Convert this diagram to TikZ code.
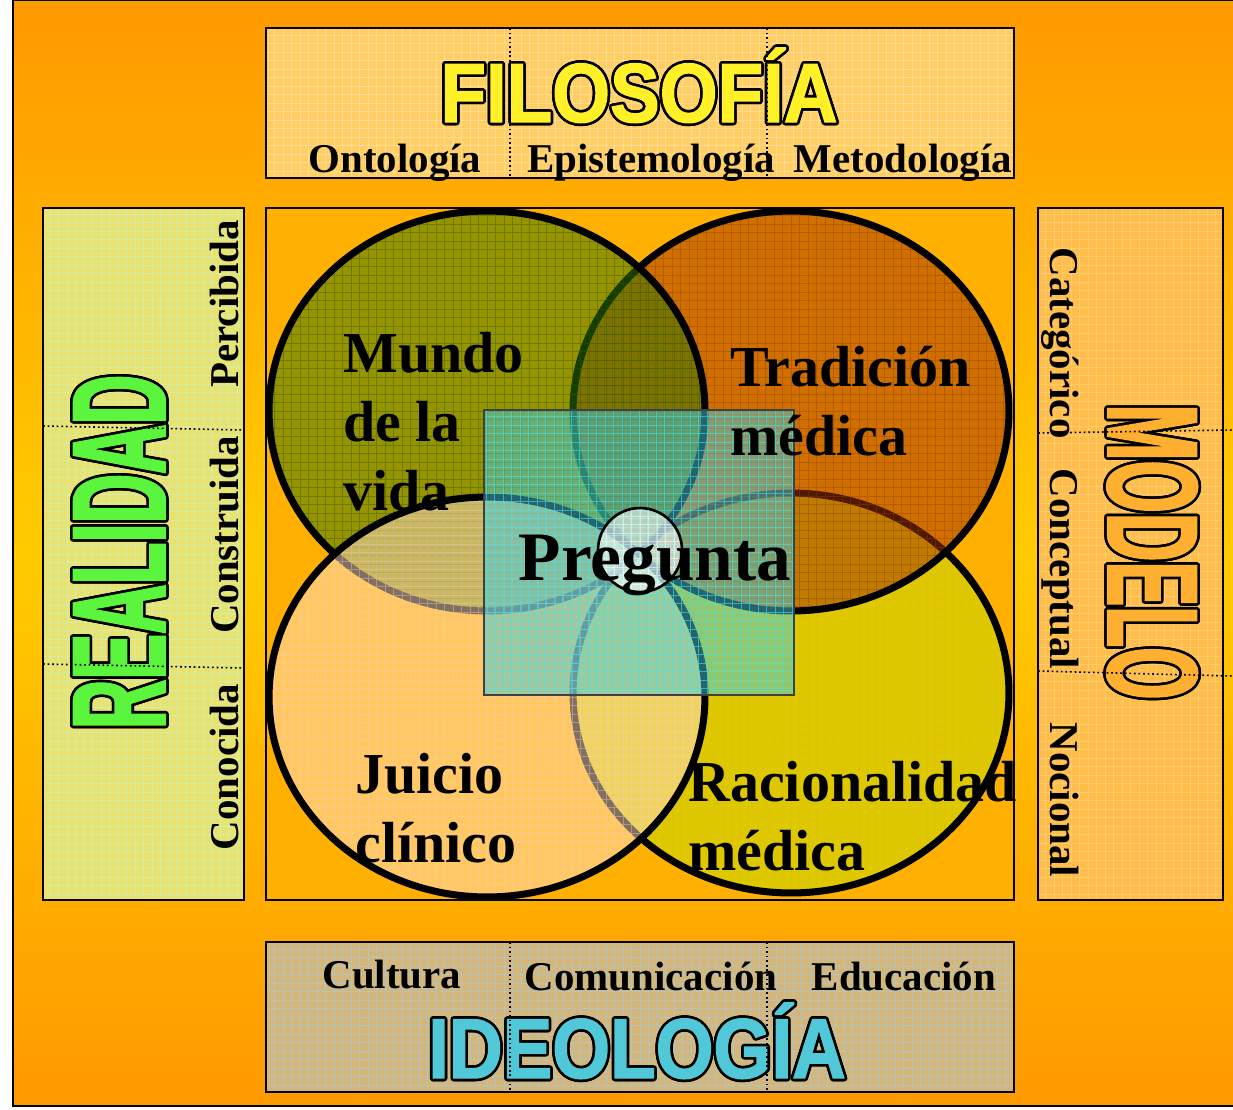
\documentclass[tikz,border=0pt]{standalone}
\usepackage{fontspec}
\setmainfont{Liberation Serif}
\newfontfamily\filofont{Liberation Sans Bold}[FakeStretch=0.888, FakeBold=1.6]
\newfontfamily\ideofont{Liberation Sans Bold}[FakeStretch=0.875, FakeBold=1.6]
\newfontfamily\realfont{Liberation Sans Bold}[FakeStretch=0.517, FakeBold=1.6]
\newfontfamily\modfont{Liberation Sans Bold}[FakeStretch=0.524, FakeBold=1.6]
\usetikzlibrary{shapes.geometric}

% black outline round a text: #1 fill colour, #2 text
\newcommand\outlined[2]{\leavevmode\foreach \a in {0,20,...,340}{\pgfmathsetlengthmacro\odx{1.5pt*cos(\a)}\pgfmathsetlengthmacro\ody{1.5pt*sin(\a)}\rlap{\kern\odx\raisebox{\ody}{\textcolor{black}{#2}}}}\textcolor{#1}{#2}}

\definecolor{bgorange}{RGB}{255,153,0}
\definecolor{bgyellow}{RGB}{255,204,0}
\definecolor{filofill}{RGB}{255,206,100}
\definecolor{realfill}{RGB}{232,226,112}
\definecolor{modfill}{RGB}{255,190,76}
\definecolor{ideofill}{RGB}{212,182,120}
\definecolor{centerfill}{RGB}{255,176,0}
\definecolor{tlfill}{RGB}{45,120,0}
\definecolor{trfill}{RGB}{161,48,0}
\definecolor{blfill}{RGB}{255,224,192}
\definecolor{brfill}{RGB}{193,224,0}
\definecolor{sqfill}{RGB}{70,200,220}
\definecolor{realgrid}{RGB}{200,245,200}
\definecolor{modgrid}{RGB}{255,225,160}
\definecolor{ideogrid}{RGB}{160,205,240}
\definecolor{tlgrid}{RGB}{40,90,0}
\definecolor{trgrid}{RGB}{150,60,0}
\definecolor{blgrid}{RGB}{255,200,200}
\definecolor{brgrid}{RGB}{200,190,0}
\definecolor{sqgrid}{RGB}{60,230,230}
\definecolor{filotext}{RGB}{255,240,40}
\definecolor{ideotext}{RGB}{80,200,215}
\definecolor{realtext}{RGB}{90,245,60}
\definecolor{modtext}{RGB}{255,176,48}

\begin{document}
\begin{tikzpicture}[x=0.02cm, y=-0.02cm]
        \tikzstyle{panel} = [rectangle, draw=black, line width=1pt, inner sep=0pt]
        \tikzstyle{blob} = [ellipse, draw=black, line width=4pt, fill opacity=0.5, minimum width=8.72cm, minimum height=8cm, inner sep=0pt]
        \tikzstyle{lbl} = [font=\fontsize{23.3pt}{28pt}\selectfont\bfseries, anchor=base, inner sep=0pt]
        \tikzstyle{biglbl} = [font=\fontsize{33pt}{39pt}\selectfont\bfseries, align=left, anchor=base west, inner sep=0pt]
        \tikzstyle{title} = [anchor=base, inner sep=0pt]
        \tikzstyle{divider} = [line width=0.9pt, dash pattern=on 1pt off 1.6pt]
        \tikzset{gridded/.style={path picture={\draw[#1, line width=0.35pt, step=0.17cm] (path picture bounding box.south west) grid (path picture bounding box.north east);}}}

        \useasboundingbox (0,0) rectangle (1233,1109);
        % fondo
        \fill[top color=bgorange, bottom color=bgorange, middle color=bgyellow] (13,0) rectangle (1240,1106);
        \draw[line width=1.3pt] (13,0) rectangle (1240,1106);

        % paneles
        \node (filosofia) [panel, fill=filofill, gridded={white, draw opacity=0.3}, minimum width=14.96cm, minimum height=3cm] at (640,103) {};
        \node (realidad) [panel, fill=realfill, gridded={realgrid, draw opacity=0.6}, minimum width=4.02cm, minimum height=13.84cm] at (143.5,554) {};
        \node (modelo) [panel, fill=modfill, gridded={modgrid, draw opacity=0.4}, minimum width=3.7cm, minimum height=13.84cm] at (1130.5,554) {};
        \node (ideologia) [panel, fill=ideofill, gridded={ideogrid, draw opacity=0.6}, minimum width=14.96cm, minimum height=3cm] at (640,1017) {};
        \node (centro) [panel, fill=centerfill, minimum width=14.96cm, minimum height=13.84cm] at (640,554) {};

        % circulos
        \node (racional) [blob, fill=brfill, gridded={brgrid, draw opacity=0.25}] at (791,693) {};
        \node (tradicion) [blob, fill=trfill, gridded={trgrid, draw opacity=0.4}] at (791,411) {};
        \node (mundo) [blob, fill=tlfill, gridded={tlgrid, draw opacity=0.4}] at (487,411) {};
        \node (juicio) [blob, fill=blfill, gridded={blgrid, draw opacity=0.4}] at (487,697) {};

        % pregunta
        \node (cuadro) [rectangle, draw=black!75, line width=1pt, fill=sqfill, fill opacity=0.5, gridded={sqgrid, draw opacity=0.6}, minimum width=6.2cm, minimum height=5.7cm, inner sep=0pt] at (639,552.5) {};
        \node (foco) [circle, draw=black, line width=1.5pt, fill=white, fill opacity=0.55, gridded={white, draw opacity=0.5}, minimum size=1.68cm, inner sep=0pt] at (640,550) {};
        \node (pregunta) [font=\fontsize{39.5pt}{44pt}\selectfont\bfseries, anchor=base, inner sep=0pt] at (655,580) {Pregunta};

        % textos de los circulos
        \node (mundo txt) [biglbl] at (343,510) {Mundo\\de la\\vida};
        \node (tradicion txt) [biglbl] at (730,455) {Tradición\\médica};
        \node (juicio txt) [biglbl] at (355,862) {Juicio\\clínico};
        \node (racional txt) [biglbl] at (688,870) {Racionalidad\\médica};

        % titulos
        \node (filo title) [title, font=\fontsize{47.7pt}{50pt}\filofont] at (639,122) {\outlined{filotext}{FILOSOFÍA}};
        \node (ideo title) [title, font=\fontsize{48.4pt}{50pt}\ideofont] at (637,1078) {\outlined{ideotext}{IDEOLOGÍA}};
        \node (real title) [title, rotate=90, font=\fontsize{75.5pt}{78pt}\realfont] at (165,552) {\outlined{realtext}{REALIDAD}};
        \node (mod title) [title, rotate=-90, font=\fontsize{73pt}{76pt}\modfont] at (1108,552) {\outlined{modtext}{MODELO}};

        % etiquetas
        \node (ontologia) [lbl] at (395,172) {Ontología};
        \node (epistemologia) [lbl] at (651,172) {Epistemología};
        \node (metodologia) [lbl] at (903,172) {Metodología};
        \node (cultura) [lbl] at (392,988) {Cultura};
        \node (comunicacion) [lbl] at (651,990) {Comunicación};
        \node (educacion) [lbl] at (904,990) {Educación};
        \node (percibida) [lbl, rotate=90] at (238,304) {Percibida};
        \node (construida) [lbl, rotate=90] at (238,535) {Construida};
        \node (conocida) [lbl, rotate=90] at (238,767) {Conocida};
        \node (categorico) [lbl, rotate=-90] at (1050,343) {Categórico};
        \node (conceptual) [lbl, rotate=-90] at (1050,569) {Conceptual};
        \node (nocional) [lbl, rotate=-90] at (1050,800) {Nocional};

        % divisiones
        \draw[divider] (510,28) -- (510,178);
        \draw[divider] (767,28) -- (767,178);
        \draw[divider] (510,942) -- (510,1092);
        \draw[divider] (767,942) -- (767,1092);
        \draw[divider] (43,426) -- (244,430);
        \draw[divider] (43,664) -- (244,668);
        \draw[divider] (1038,433) -- (1233,430);
        \draw[divider] (1038,671) -- (1233,676);
\end{tikzpicture}
\end{document}
